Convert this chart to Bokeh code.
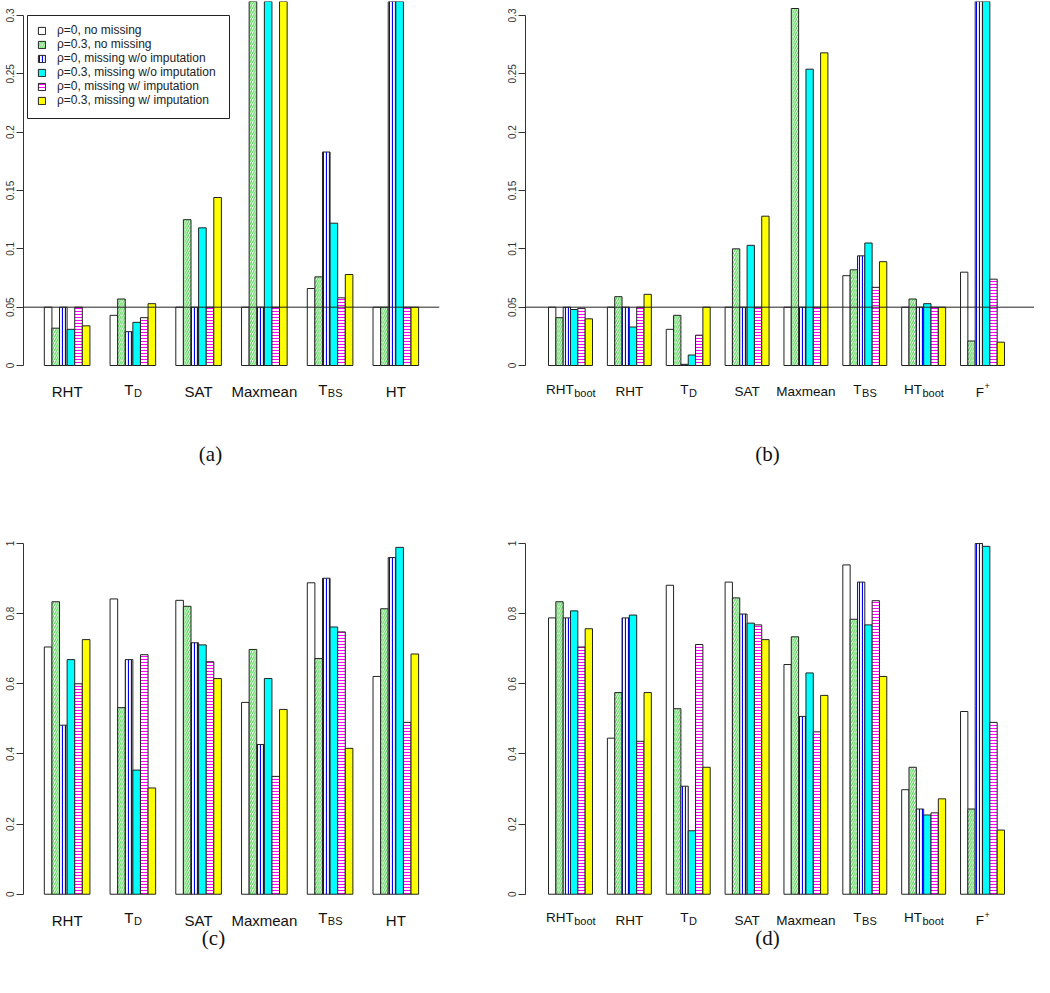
from bokeh.plotting import figure
from bokeh.models import (Range1d, FixedTicker, Span, Legend, LegendItem, ColumnDataSource,
                          CustomJSTickFormatter, BoxAnnotation)
from bokeh.layouts import column, row
from bokeh.embed import file_html
from bokeh.resources import INLINE
from bokeh.core.properties import value

# ---------------- data ----------------
series_names = ["ρ=0, no missing", "ρ=0.3, no missing", "ρ=0, missing w/o imputation",
                "ρ=0.3, missing w/o imputation", "ρ=0, missing w/ imputation", "ρ=0.3, missing w/ imputation"]

methods_6_main = ["RHT", "T", "SAT", "Maxmean", "T", "HT"]
methods_6_sub = ["", "D", "", "", "BS", ""]
methods_8_main = ["RHT", "RHT", "T", "SAT", "Maxmean", "T", "HT", "F"]
methods_8_sub = ["boot", "", "D", "", "", "BS", "boot", "+"]

# (a) size, 6 methods
size_a_white = [0.050, 0.043, 0.050, 0.050, 0.066, 0.050]
size_a_green = [0.032, 0.057, 0.125, 0.420, 0.076, 0.050]
size_a_blue = [0.050, 0.029, 0.050, 0.050, 0.183, 0.400]
size_a_cyan = [0.031, 0.037, 0.118, 0.400, 0.122, 0.420]
size_a_magenta = [0.050, 0.041, 0.050, 0.050, 0.058, 0.050]
size_a_yellow = [0.034, 0.053, 0.144, 0.410, 0.078, 0.050]

# (b) size, 8 methods
size_b_white = [0.050, 0.050, 0.031, 0.050, 0.050, 0.077, 0.050, 0.080]
size_b_green = [0.041, 0.059, 0.043, 0.100, 0.306, 0.082, 0.057, 0.021]
size_b_blue = [0.050, 0.050, 0.001, 0.050, 0.050, 0.094, 0.050, 0.450]
size_b_cyan = [0.048, 0.033, 0.009, 0.103, 0.254, 0.105, 0.053, 0.440]
size_b_magenta = [0.049, 0.050, 0.026, 0.050, 0.050, 0.067, 0.050, 0.074]
size_b_yellow = [0.040, 0.061, 0.050, 0.128, 0.268, 0.089, 0.050, 0.020]

# (c) power, 6 methods
power_c_white = [0.705, 0.842, 0.838, 0.547, 0.888, 0.621]
power_c_green = [0.834, 0.532, 0.821, 0.698, 0.672, 0.814]
power_c_blue = [0.482, 0.669, 0.717, 0.427, 0.901, 0.960]
power_c_cyan = [0.669, 0.354, 0.711, 0.615, 0.762, 0.989]
power_c_magenta = [0.600, 0.683, 0.663, 0.336, 0.748, 0.490]
power_c_yellow = [0.726, 0.303, 0.615, 0.527, 0.416, 0.685]

# (d) power, 8 methods
power_d_white = [0.788, 0.445, 0.881, 0.890, 0.655, 0.939, 0.298, 0.521]
power_d_green = [0.834, 0.575, 0.529, 0.845, 0.734, 0.784, 0.362, 0.243]
power_d_blue = [0.788, 0.788, 0.308, 0.799, 0.507, 0.890, 0.243, 1.000]
power_d_cyan = [0.808, 0.796, 0.181, 0.773, 0.631, 0.768, 0.226, 0.992]
power_d_magenta = [0.705, 0.436, 0.712, 0.768, 0.463, 0.837, 0.232, 0.490]
power_d_yellow = [0.757, 0.575, 0.362, 0.726, 0.567, 0.621, 0.272, 0.183]

size_ticks = [0, 0.05, 0.1, 0.15, 0.2, 0.25, 0.3]
power_ticks = [0, 0.2, 0.4, 0.6, 0.8, 1]
nominal_level = 0.05

# ---------------- styles ----------------
FILL = ["white", "white", "white", "#00ffff", "white", "#ffff00"]
HATCH = [None, "/", "|", None, "-", None]
HATCH_COLOR = ["black", "#45d045", "#0000ff", "black", "#ff00ff", "black"]
HATCH_SCALE = [4, 4.5, 3, 4, 3, 4]
HATCH_WEIGHT = [1, 1.1, 1.2, 1, 1.1, 1]
EDGE = "#222222"
FONT = "Liberation Sans"
CW = {"R": .722, "H": .722, "T": .611, "D": .722, "B": .667, "S": .667, "F": .611,
      "b": .556, "o": .556, "t": .278, "+": .584}


def twidth(s, size):
    return sum(CW.get(c, .556) for c in s) * size


def add_text(p, x, y, text, size, align):
    p.text(x=[x], y=[y], text=[text], text_font=value(FONT), text_font_size=value(f"{size}px"),
           text_align=align, text_baseline="alphabetic", text_color="#111111")


def panel(series, mains, subs, gap, edge, px_unit, px_y, frame_w, frame_h, ytop, ticks,
          w, h, mb_left, mb_top, mb_right, main_size, sub_size,
          caption, cap_x, cap_dy, hline=False, legend=None):
    n = len(mains)
    ybot = ytop - frame_h / px_y
    p = figure(width=w, height=h, x_range=Range1d(0, frame_w / px_unit), y_range=Range1d(ybot, ytop),
               output_backend="svg", toolbar_location=None, x_axis_location=None,
               min_border_left=mb_left, min_border_right=mb_right,
               min_border_top=mb_top, min_border_bottom=0)
    p.frame_width = frame_w
    p.frame_height = frame_h
    p.outline_line_color = None
    p.xgrid.visible = False
    p.ygrid.visible = False
    p.background_fill_color = "white"
    p.border_fill_color = "white"
    ax = p.yaxis[0]
    ax.ticker = FixedTicker(ticks=ticks)
    ax.bounds = (ticks[0], ticks[-1])
    ax.formatter = CustomJSTickFormatter(code="return String(tick)")
    ax.major_label_orientation = "vertical"
    ax.major_label_text_font = FONT
    ax.major_label_text_font_size = "10px"
    ax.major_label_text_color = "#333333"
    ax.major_tick_out = 7
    ax.major_tick_in = 0
    ax.minor_tick_out = 0
    ax.minor_tick_in = 0
    ax.major_label_standoff = 2
    ax.axis_line_color = "#333333"
    ax.major_tick_line_color = "#333333"

    renderers = []
    for k, vals in enumerate(series):
        xs = [edge + g * (6 + gap) + k + 0.5 for g in range(n)]
        src = ColumnDataSource(dict(x=xs, top=vals))
        kw = dict(fill_color=FILL[k], line_color=EDGE, line_width=1)
        if HATCH[k]:
            kw.update(hatch_pattern=HATCH[k], hatch_color=HATCH_COLOR[k],
                      hatch_scale=HATCH_SCALE[k], hatch_weight=HATCH_WEIGHT[k])
        r = p.vbar(x="x", top="top", width=1, bottom=0, source=src, **kw)
        renderers.append(r)

    if hline:
        p.add_layout(Span(location=nominal_level, dimension="width", line_color="#222222", line_width=1))

    # category names below the bars (pixel offsets converted to data units)
    def dy(px):
        return -px / px_y

    for g in range(n):
        cx = edge + g * (6 + gap) + 3
        m, s = mains[g], subs[g]
        if not s:
            add_text(p, cx, dy(26), m, main_size, "center")
        elif s == "+":
            wm = twidth(m, main_size)
            ws = twidth(s, 9)
            ax_ = cx + (wm - ws) / 2 / px_unit
            add_text(p, ax_, dy(26.5), m, main_size, "right")
            add_text(p, ax_ + 0.6 / px_unit, dy(20.5), s, 9, "left")
        else:
            wm = twidth(m, main_size)
            ws = twidth(s, sub_size)
            ax_ = cx + (wm - ws) / 2 / px_unit
            add_text(p, ax_, dy(23.5), m, main_size, "right")
            add_text(p, ax_ + 0.5 / px_unit, dy(27), s, sub_size, "left")

    p.text(x=[cap_x / px_unit], y=[dy(cap_dy)], text=[caption], text_font=value("Liberation Serif"),
           text_font_size=value("21px"), text_align="center", text_baseline="middle",
           text_color="#111111")

    if legend is not None:
        (lx, lvy, box) = legend
        bl, br, bt, bb = box
        p.add_layout(BoxAnnotation(left=bl / px_unit, right=br / px_unit,
                                   top=ytop - bt / px_y, bottom=ytop - bb / px_y,
                                   fill_color="white", fill_alpha=1, line_color="#222222",
                                   line_width=1, line_alpha=1))
        items = [LegendItem(label=nm, renderers=[r]) for nm, r in zip(series_names, renderers)]
        lg = Legend(items=items, location=(lx, lvy), label_text_font=FONT, label_text_font_size="12px",
                    label_text_color="#222222", glyph_width=9, glyph_height=9, label_height=12,
                    label_standoff=11, spacing=0, padding=9, margin=0,
                    border_line_color=None, background_fill_alpha=0)
        p.add_layout(lg)
    return p


A_PX, A_GAP, A_EDGE, A_FW = 7.6, 2.65, 2.74, 416
B_PX, B_GAP, B_EDGE, B_FW = 7.33, 2.03, 3.14, 509
SIZE_PXY = 1166.7
POWER_PXY = 350.7

# legend box edges in pixels from the frame's left / top edges
LEGEND_BOX = (4, 206, 14, 117)

pa = panel([size_a_white, size_a_green, size_a_blue, size_a_cyan, size_a_magenta, size_a_yellow],
           methods_6_main, methods_6_sub, A_GAP, A_EDGE, A_PX, SIZE_PXY, A_FW, 479, 0.312, size_ticks,
           500, 480, 23, 1, 61, 15, 11, "(a)", 187, 88, hline=True, legend=(14, 373, LEGEND_BOX))
pb = panel([size_b_white, size_b_green, size_b_blue, size_b_cyan, size_b_magenta, size_b_yellow],
           methods_8_main, methods_8_sub, B_GAP, B_EDGE, B_PX, SIZE_PXY, B_FW, 479, 0.312, size_ticks,
           534, 480, 25, 1, 0, 13.5, 11, "(b)", 242, 88, hline=True)
pc = panel([power_c_white, power_c_green, power_c_blue, power_c_cyan, power_c_magenta, power_c_yellow],
           methods_6_main, methods_6_sub, A_GAP, A_EDGE, A_PX, POWER_PXY, A_FW, 448, 1.04, power_ticks,
           500, 497, 23, 49, 61, 15, 11, "(c)", 190, 44)
pd_ = panel([power_d_white, power_d_green, power_d_blue, power_d_cyan, power_d_magenta, power_d_yellow],
            methods_8_main, methods_8_sub, B_GAP, B_EDGE, B_PX, POWER_PXY, B_FW, 448, 1.04, power_ticks,
            534, 497, 25, 49, 0, 13.5, 11, "(d)", 242, 44)

layout = column(row(pa, pb), row(pc, pd_))
open("out.html", "w").write(file_html(layout, INLINE))
